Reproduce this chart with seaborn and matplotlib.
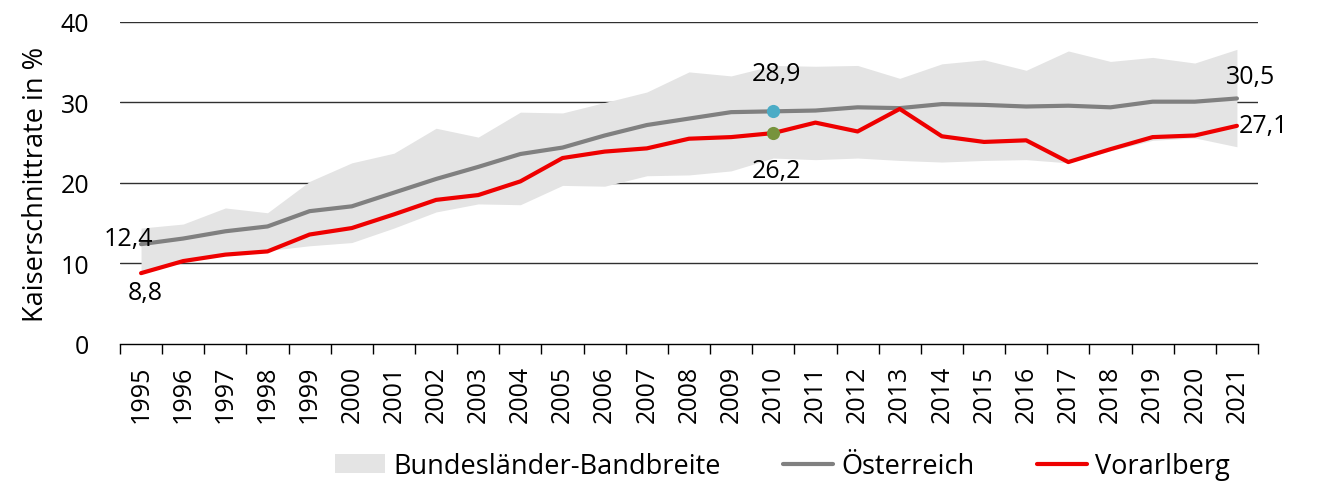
import numpy as np
import pandas as pd
import seaborn as sns
import matplotlib.pyplot as plt
from matplotlib.patches import Patch
from matplotlib.lines import Line2D

years = list(range(1995, 2022))
oesterreich = [12.4, 13.1, 14.0, 14.6, 16.5, 17.1, 18.8, 20.5, 22.0, 23.6,
               24.4, 25.9, 27.2, 28.0, 28.8, 28.9, 29.0, 29.4, 29.3, 29.8,
               29.7, 29.5, 29.6, 29.4, 30.1, 30.1, 30.5]
vorarlberg = [8.8, 10.3, 11.1, 11.5, 13.6, 14.4, 16.1, 17.9, 18.5, 20.2,
              23.1, 23.9, 24.3, 25.5, 25.7, 26.2, 27.5, 26.4, 29.2, 25.8,
              25.1, 25.3, 22.6, 24.2, 25.7, 25.9, 27.1]
band_max = [14.4, 14.9, 16.9, 16.3, 20.2, 22.5, 23.7, 26.8, 25.7, 28.8,
            28.7, 30.0, 31.3, 33.8, 33.3, 34.6, 34.5, 34.6, 33.0, 34.8,
            35.3, 34.0, 36.4, 35.1, 35.6, 34.9, 36.6]
band_min = [8.8, 10.3, 11.1, 11.6, 12.2, 12.6, 14.4, 16.4, 17.4, 17.3,
            19.7, 19.6, 20.9, 21.0, 21.5, 23.1, 22.9, 23.1, 22.8, 22.6,
            22.8, 22.9, 22.5, 24.0, 25.3, 25.6, 24.5]

df = pd.DataFrame({'Jahr': years, 'Österreich': oesterreich, 'Vorarlberg': vorarlberg})

sns.set_style('white')
plt.rcParams['font.family'] = ['Open Sans', 'DejaVu Sans']
plt.rcParams['font.size'] = 18
plt.rcParams['text.color'] = 'black'
plt.rcParams['axes.labelcolor'] = 'black'
plt.rcParams['xtick.color'] = 'black'
plt.rcParams['ytick.color'] = 'black'

fig, ax = plt.subplots(figsize=(13.17, 4.85), dpi=100)
fig.subplots_adjust(left=0.0911, right=0.9552, top=0.9526, bottom=0.2887)

grey = '#808080'
red = '#ee0000'
band_col = '#e4e4e4'

for v in [10, 20, 30, 40]:
    ax.axhline(v, color='#303030', lw=1.0, zorder=0)

ax.fill_between(years, band_min, band_max, color=band_col, lw=0, zorder=1)
sns.lineplot(data=df, x='Jahr', y='Österreich', color=grey, lw=3.0, ax=ax, zorder=3)
sns.lineplot(data=df, x='Jahr', y='Vorarlberg', color=red, lw=3.0, ax=ax, zorder=4)
for l in ax.lines:
    l.set_solid_joinstyle('round')
    l.set_solid_capstyle('round')

i10 = years.index(2010)
ax.scatter([2010], [oesterreich[i10]], s=90, color='#4bacc6', zorder=5, linewidths=0)
ax.scatter([2010], [vorarlberg[i10]], s=90, color='#77933c', zorder=5, linewidths=0)


def fmt(v):
    return f'{v:.1f}'.replace('.', ',')


ax.annotate(fmt(oesterreich[0]), (years[0], oesterreich[0]), xytext=(9, 4),
            textcoords='offset points', ha='right', va='center', zorder=6)
ax.annotate(fmt(vorarlberg[0]), (years[0], vorarlberg[0]), xytext=(3, -14),
            textcoords='offset points', ha='center', va='center', zorder=6)
ax.annotate(fmt(oesterreich[i10]), (2010, oesterreich[i10]), xytext=(2, 27),
            textcoords='offset points', ha='center', va='center', zorder=6)
ax.annotate(fmt(vorarlberg[i10]), (2010, vorarlberg[i10]), xytext=(2, -27),
            textcoords='offset points', ha='center', va='center', zorder=6)
ax.annotate(fmt(oesterreich[-1]), (years[-1], oesterreich[-1]), xytext=(10, 16),
            textcoords='offset points', ha='center', va='center', zorder=6)
ax.annotate(fmt(vorarlberg[-1]), (years[-1], vorarlberg[-1]), xytext=(1, 0),
            textcoords='offset points', ha='left', va='center', zorder=6)

ax.set_xlim(years[0] - 0.5, years[-1] + 0.5)
ax.set_ylim(0, 40)
ax.set_yticks([0, 10, 20, 30, 40])
ax.tick_params(axis='y', length=0, pad=22, labelsize=18)

ax.set_xticks([y - 0.5 for y in years] + [years[-1] + 0.5])
ax.set_xticklabels([])
ax.set_xticks(years, minor=True)
ax.set_xticklabels([str(y) for y in years], minor=True, rotation=90)
ax.tick_params(axis='x', which='major', direction='out', length=7, width=1, color='black', bottom=True)
ax.tick_params(axis='x', which='minor', length=0, pad=15, labelsize=18)

for s in ['left', 'right', 'top']:
    ax.spines[s].set_visible(False)
ax.spines['bottom'].set_color('black')
ax.spines['bottom'].set_linewidth(1.0)

ax.set_xlabel('')
ax.set_ylabel('Kaiserschnittrate in %', fontsize=19.5, labelpad=8)

handles = [Patch(facecolor=band_col, edgecolor='none', label='Bundesländer-Bandbreite'),
           Line2D([0], [0], color=grey, lw=3.0, label='Österreich'),
           Line2D([0], [0], color=red, lw=3.0, label='Vorarlberg')]
fig.legend(handles=handles, loc='center', bbox_to_anchor=(0.594, 0.037), ncol=3,
           frameon=False, fontsize=19.5, handlelength=1.85, handletextpad=0.3,
           columnspacing=2.3, borderaxespad=0)

fig.savefig('out.png', dpi=100)
